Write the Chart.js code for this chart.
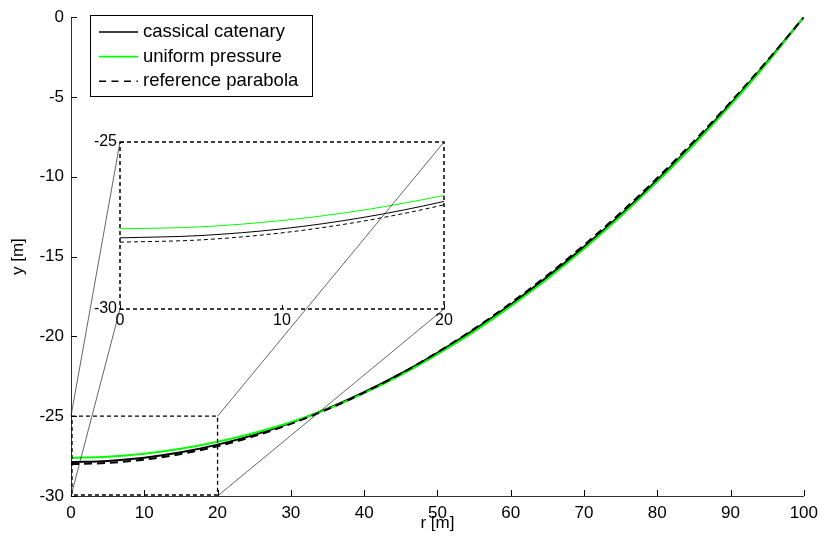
<!DOCTYPE html>
<html>
<head>
<meta charset="utf-8">
<script src="https://cdn.jsdelivr.net/npm/chart.js@4.4.1/dist/chart.umd.min.js"></script>
<style>
  html, body { margin: 0; padding: 0; background: #fff; }
  #wrap { position: relative; width: 825px; height: 550px; }
  #wrap canvas { position: absolute; left: 0; top: 0; }
</style>
</head>
<body>
<div id="wrap">
  <canvas id="mainChart" width="825" height="550"></canvas>
  <canvas id="insetChart" width="825" height="550"></canvas>
</div>
<script>
// values
const radius = [0, 5, 10, 15, 20, 25, 30, 35, 40, 45, 50, 55, 60, 65, 70, 75, 80, 85, 90, 95, 100];
const catenary = [-27.87, -27.8, -27.6, -27.26, -26.78, -26.17, -25.42, -24.53, -23.5, -22.34, -21.03,
  -19.59, -18.0, -16.27, -14.39, -12.37, -10.2, -7.89, -5.42, -2.8, 0];
const uniformPressure = [-27.6, -27.54, -27.35, -27.04, -26.6, -26.05, -25.38, -24.56, -23.56, -22.42, -21.12,
  -19.7, -18.12, -16.4, -14.52, -12.49, -10.32, -7.99, -5.52, -2.87, 0];
const parabola = [-28.0, -27.93, -27.72, -27.37, -26.88, -26.25, -25.48, -24.57, -23.52, -22.33, -21.0,
  -19.53, -17.92, -16.17, -14.28, -12.25, -10.08, -7.77, -5.32, -2.73, 0];
const seriesNames = ["cassical catenary", "uniform pressure", "reference parabola"];
const zoomR = [0, 20];
const zoomY = [-30, -25];

Chart.defaults.color = "#000";
Chart.defaults.font.family = "'Liberation Sans', Arial, sans-serif";

function toPoints(values) {
  return radius.map((r, i) => ({ x: r, y: values[i] }));
}

function makeDatasets(width, dash) {
  return [
    { label: seriesNames[0], data: toPoints(catenary), borderColor: "#000", borderWidth: width, order: 3 },
    { label: seriesNames[1], data: toPoints(uniformPressure), borderColor: "#00ff00", borderWidth: width, order: 2 },
    { label: seriesNames[2], data: toPoints(parabola), borderColor: "#000", borderWidth: width, borderDash: dash, order: 1 },
  ].map((d) => Object.assign(d, { pointRadius: 0, cubicInterpolationMode: "monotone", fill: false }));
}

// ticks pointing into the plot
function drawInwardTicks(chart, len) {
  const { ctx, chartArea, scales } = chart;
  ctx.save();
  ctx.strokeStyle = "#000";
  ctx.lineWidth = 1;
  ctx.beginPath();
  scales.x.ticks.forEach((t) => {
    const px = Math.round(scales.x.getPixelForValue(t.value)) + 0.5;
    ctx.moveTo(px, chartArea.bottom);
    ctx.lineTo(px, chartArea.bottom - len);
  });
  scales.y.ticks.forEach((t) => {
    const py = Math.round(scales.y.getPixelForValue(t.value)) + 0.5;
    ctx.moveTo(chartArea.left, py);
    ctx.lineTo(chartArea.left + len, py);
  });
  ctx.stroke();
  ctx.restore();
}

const mainExtras = {
  id: "mainExtras",
  afterDraw(chart) {
    const { ctx, scales } = chart;
    drawInwardTicks(chart, 6);

    // zoom rectangle
    const x0 = scales.x.getPixelForValue(zoomR[0]);
    const x1 = scales.x.getPixelForValue(zoomR[1]);
    const y0 = scales.y.getPixelForValue(zoomY[1]);
    const y1 = scales.y.getPixelForValue(zoomY[0]);
    ctx.save();
    ctx.strokeStyle = "#000";
    ctx.lineWidth = 1.3;
    ctx.setLineDash([4, 3]);
    ctx.strokeRect(x0 + 1, y0, x1 - x0 - 1, y1 - y0 - 1);
    ctx.restore();

    // legend
    const bx = 90.5, by = 15.5, bw = 222, bh = 81;
    ctx.save();
    ctx.fillStyle = "#fff";
    ctx.fillRect(bx, by, bw, bh);
    ctx.strokeStyle = "#000";
    ctx.lineWidth = 1;
    ctx.strokeRect(bx, by, bw, bh);
    ctx.font = "18.5px 'Liberation Sans', Arial, sans-serif";
    ctx.textBaseline = "middle";
    const colors = ["#000", "#00ff00", "#000"];
    seriesNames.forEach((name, i) => {
      const y = 32 + i * 24.6;
      ctx.beginPath();
      ctx.strokeStyle = colors[i];
      ctx.lineWidth = 1.6;
      ctx.setLineDash(i === 2 ? [7, 5.5] : []);
      ctx.moveTo(99, y);
      ctx.lineTo(138, y);
      ctx.stroke();
      ctx.setLineDash([]);
      ctx.fillStyle = "#000";
      ctx.fillText(name, 143, y);
    });
    ctx.restore();
  },
};

const mainChart = new Chart(document.getElementById("mainChart"), {
  type: "line",
  data: { datasets: makeDatasets(2, [8, 5]) },
  options: {
    responsive: false,
    animation: false,
    layout: { padding: { left: 0, right: 16, top: 12, bottom: 0 } },
    plugins: { legend: { display: false }, tooltip: { enabled: false } },
    scales: {
      x: {
        type: "linear",
        min: 0,
        max: 100,
        ticks: { stepSize: 10, padding: 7, font: { size: 17 }, maxRotation: 0 },
        grid: { display: false, drawTicks: false },
        border: { display: true, color: "#333", width: 1 },
        title: { display: true, text: "r [m]", font: { size: 17 }, padding: { bottom: 16 } },
        afterFit: (s) => { s.height = 54; },
      },
      y: {
        type: "linear",
        min: -30,
        max: 0,
        ticks: { stepSize: 5, padding: 7, font: { size: 17 } },
        grid: { display: false, drawTicks: false },
        border: { display: true, color: "#333", width: 1 },
        title: { display: true, text: "y [m]", font: { size: 17 }, padding: { top: 8 } },
        afterFit: (s) => { s.width = 71; },
      },
    },
  },
  plugins: [mainExtras],
});

const insetExtras = {
  id: "insetExtras",
  afterDraw(chart) {
    const { ctx, chartArea } = chart;
    drawInwardTicks(chart, 4);
    ctx.save();
    ctx.strokeStyle = "#000";
    ctx.lineWidth = 1.5;
    ctx.setLineDash([4, 3]);
    ctx.strokeRect(chartArea.left, chartArea.top, chartArea.right - chartArea.left, chartArea.bottom - chartArea.top);
    ctx.restore();

    // connector lines to the zoom rectangle
    const ms = mainChart.scales;
    const rl = ms.x.getPixelForValue(zoomR[0]);
    const rr = ms.x.getPixelForValue(zoomR[1]);
    const rt = ms.y.getPixelForValue(zoomY[1]);
    const rb = ms.y.getPixelForValue(zoomY[0]);
    ctx.save();
    ctx.strokeStyle = "#222";
    ctx.lineWidth = 0.7;
    ctx.beginPath();
    ctx.moveTo(chartArea.left, chartArea.top); ctx.lineTo(rl, rt);
    ctx.moveTo(chartArea.left, chartArea.bottom); ctx.lineTo(rl, rb);
    ctx.moveTo(chartArea.right, chartArea.top); ctx.lineTo(rr, rt);
    ctx.moveTo(chartArea.right, chartArea.bottom); ctx.lineTo(rr, rb);
    ctx.stroke();
    ctx.restore();
  },
};

const insetChart = new Chart(document.getElementById("insetChart"), {
  type: "line",
  data: { datasets: makeDatasets(1, [4, 3]) },
  options: {
    responsive: false,
    animation: false,
    layout: { padding: { left: 80, right: 381, top: 142, bottom: 211 } },
    plugins: { legend: { display: false }, tooltip: { enabled: false } },
    scales: {
      x: {
        type: "linear",
        min: zoomR[0],
        max: zoomR[1],
        ticks: { stepSize: 10, padding: 2, font: { size: 16 }, maxRotation: 0 },
        grid: { display: false, drawTicks: false },
        border: { display: false },
        afterFit: (s) => { s.height = 30; },
      },
      y: {
        type: "linear",
        min: zoomY[0],
        max: zoomY[1],
        ticks: { stepSize: 5, padding: 3, font: { size: 16 } },
        grid: { display: false, drawTicks: false },
        border: { display: false },
        afterFit: (s) => { s.width = 40; },
      },
    },
  },
  plugins: [insetExtras],
});
</script>
</body>
</html>
